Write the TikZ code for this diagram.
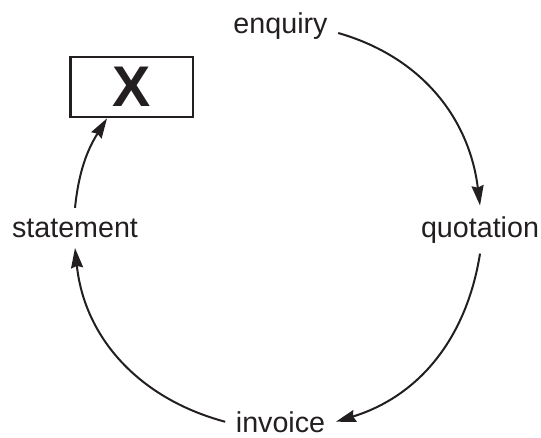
\documentclass[tikz,border=0pt]{standalone}
\usepackage{fontspec}
\setmainfont{Liberation Sans}
\usepackage{xcolor}
\usetikzlibrary{arrows.meta}
\definecolor{ink}{HTML}{231F20}

\begin{document}
\begin{tikzpicture}[
  x=0.75pt, y=0.75pt,
  stage/.style={
    font=\fontsize{21.5}{26}\selectfont,
    text=ink,
    inner sep=3pt,
    outer sep=5pt,
    anchor=base
  },
  xbox/.style={
    draw=ink,
    line width=2pt,
    minimum width=92pt,
    minimum height=45pt,
    text=ink,
    font=\fontsize{43}{50}\selectfont\bfseries
  },
  arr/.style={-{Stealth[length=15pt,width=9pt,inset=1.5pt]}, line width=1.5pt, draw=ink}
]
\useasboundingbox (0,0) rectangle (541,437);

% the four stages round the cycle
\node[stage] (enq) at (280.5,404) {enquiry};
\node[stage] (quot) at (480,200) {quotation};
\node[stage] (inv) at (280.5,5) {invoice};
\node[stage] (stat) at (75,200) {statement};

\node[xbox] (cross) at (131.5,350) {X};

\draw[arr] (enq.base east) to[out=-16,in=97] (quot.north);
\draw[arr] (quot.south) to[out=-99,in=17] (inv.east);
\draw[arr] (inv.west) to[out=165,in=-84] (stat.south);
\draw[arr] (stat.north) to[out=84,in=-122] (cross.-128);

\end{tikzpicture}
\end{document}
